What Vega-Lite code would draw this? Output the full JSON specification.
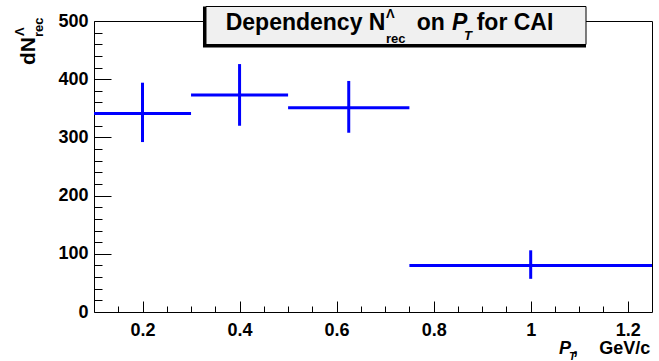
{
  "$schema": "https://vega.github.io/schema/vega-lite/v6.json",
  "width": 558,
  "height": 291,
  "autosize": {"type": "none"},
  "padding": {"left": 94, "top": 21, "right": 7, "bottom": 49},
  "background": "white",
  "config": {
    "view": {"stroke": "black", "strokeWidth": 1},
    "text": {"font": "Liberation Sans", "fontWeight": "bold", "color": "black"}
  },
  "resolve": {"axis": {"x": "independent", "y": "independent"}},
  "datasets": {
    "bins": [
      {"lo": 0.1, "hi": 0.3, "center": 0.2, "value": 341, "ylo": 292, "yhi": 394},
      {"lo": 0.3, "hi": 0.5, "center": 0.4, "value": 373, "ylo": 320, "yhi": 426},
      {"lo": 0.5, "hi": 0.75, "center": 0.625, "value": 351, "ylo": 308, "yhi": 397},
      {"lo": 0.75, "hi": 1.25, "center": 1.0, "value": 80, "ylo": 57, "yhi": 106}
    ],
    "titlebox": [
      {"x0": 0.3308, "x1": 1.114, "y0": 459.6, "y1": 524.9}
    ],
    "notes": [
      {"part": "title", "text": "Dependency N", "x": 0.3714, "y": 484.5},
      {"part": "title", "text": "on", "x": 0.7651, "y": 484.5},
      {"part": "title", "text": "for CAI", "x": 0.8887, "y": 484.5},
      {"part": "titleItalic", "text": "P", "x": 0.8378, "y": 484.5},
      {"part": "titleSmall", "text": "Λ", "x": 0.7018, "y": 505.2},
      {"part": "titleSmall", "text": "rec", "x": 0.7018, "y": 462.2},
      {"part": "titleSmallItalic", "text": "T", "x": 0.8626, "y": 467.4},
      {"part": "yTitle", "text": "dN", "x": -0.0216, "y": 424.4},
      {"part": "yTitleSmall", "text": "rec", "x": -0.0051, "y": 472.5},
      {"part": "yTitleSmall", "text": "Λ", "x": -0.0443, "y": 474.2},
      {"part": "xTitleItalic", "text": "P", "x": 1.0584, "y": -72.2},
      {"part": "xTitleSmallItalic", "text": "T", "x": 1.079, "y": -82.5},
      {"part": "xTitleLeft", "text": ",", "x": 1.0872, "y": -72.2},
      {"part": "xTitle", "text": "GeV/c", "x": 1.2464, "y": -72.2}
    ]
  },
  "layer": [
    {
      "data": {"name": "bins"},
      "mark": {"type": "rule", "color": "#0000ff", "strokeWidth": 3},
      "encoding": {
        "x": {
          "field": "lo", "type": "quantitative",
          "scale": {"domain": [0.1, 1.25], "nice": false, "zero": false},
          "axis": {
            "orient": "bottom", "title": null, "grid": false, "domain": false,
            "values": [0.15, 0.2, 0.25, 0.3, 0.35, 0.4, 0.45, 0.5, 0.55, 0.6, 0.65, 0.7, 0.75, 0.8, 0.85, 0.9, 0.95, 1, 1.05, 1.1, 1.15, 1.2],
            "format": "~g",
            "labelExpr": "abs(datum.value*5 - round(datum.value*5)) < 0.001 ? datum.label : ''",
            "tickColor": "black", "tickWidth": 1,
            "tickSize": {"condition": {"test": "abs(datum.value*5 - round(datum.value*5)) < 0.001", "value": -11}, "value": -6},
            "labelFont": "Liberation Sans", "labelFontWeight": "bold", "labelFontSize": 18,
            "labelColor": "black", "labelPadding": 20, "labelOverlap": false, "labelFlush": false, "labelBound": false
          }
        },
        "x2": {"field": "hi"},
        "y": {
          "field": "value", "type": "quantitative",
          "scale": {"domain": [0, 500], "nice": false},
          "axis": {
            "orient": "left", "title": null, "grid": false, "domain": false,
            "values": [0, 20, 40, 60, 80, 100, 120, 140, 160, 180, 200, 220, 240, 260, 280, 300, 320, 340, 360, 380, 400, 420, 440, 460, 480, 500],
            "format": "d",
            "labelExpr": "datum.value % 100 == 0 ? datum.label : ''",
            "tickColor": "black", "tickWidth": 1,
            "tickSize": {"condition": {"test": "datum.value % 100 == 0", "value": -17}, "value": -8},
            "labelFont": "Liberation Sans", "labelFontWeight": "bold", "labelFontSize": 18,
            "labelColor": "black", "labelPadding": 23, "labelOverlap": false, "labelFlush": false, "labelBound": false
          }
        }
      }
    },
    {
      "data": {"name": "bins"},
      "mark": {"type": "rule", "color": "#0000ff", "strokeWidth": 3},
      "encoding": {
        "x": {"field": "center", "type": "quantitative", "axis": null},
        "y": {"field": "ylo", "type": "quantitative", "axis": null},
        "y2": {"field": "yhi"}
      }
    },
    {
      "data": {"name": "titlebox"},
      "mark": {"type": "rect", "fill": "black", "xOffset": -3, "yOffset": 3, "clip": false},
      "encoding": {
        "x": {"field": "x0", "type": "quantitative", "axis": null},
        "x2": {"field": "x1"},
        "y": {"field": "y0", "type": "quantitative", "axis": null},
        "y2": {"field": "y1"}
      }
    },
    {
      "data": {"name": "titlebox"},
      "mark": {"type": "rect", "fill": "#f0f0f0", "stroke": "black", "strokeWidth": 1, "clip": false},
      "encoding": {
        "x": {"field": "x0", "type": "quantitative", "axis": null},
        "x2": {"field": "x1"},
        "y": {"field": "y0", "type": "quantitative", "axis": null},
        "y2": {"field": "y1"}
      }
    },
    {
      "data": {"name": "notes"},
      "transform": [{"filter": "datum.part == 'title'"}],
      "mark": {"type": "text", "fontSize": 23, "align": "left", "baseline": "alphabetic"},
      "encoding": {
        "x": {"field": "x", "type": "quantitative", "axis": null},
        "y": {"field": "y", "type": "quantitative", "axis": null},
        "text": {"field": "text"}
      }
    },
    {
      "data": {"name": "notes"},
      "transform": [{"filter": "datum.part == 'titleItalic'"}],
      "mark": {"type": "text", "fontSize": 23, "fontStyle": "italic", "align": "left", "baseline": "alphabetic"},
      "encoding": {
        "x": {"field": "x", "type": "quantitative", "axis": null},
        "y": {"field": "y", "type": "quantitative", "axis": null},
        "text": {"field": "text"}
      }
    },
    {
      "data": {"name": "notes"},
      "transform": [{"filter": "datum.part == 'titleSmall'"}],
      "mark": {"type": "text", "fontSize": 13, "align": "left", "baseline": "alphabetic"},
      "encoding": {
        "x": {"field": "x", "type": "quantitative", "axis": null},
        "y": {"field": "y", "type": "quantitative", "axis": null},
        "text": {"field": "text"}
      }
    },
    {
      "data": {"name": "notes"},
      "transform": [{"filter": "datum.part == 'titleSmallItalic'"}],
      "mark": {"type": "text", "fontSize": 13, "fontStyle": "italic", "align": "left", "baseline": "alphabetic"},
      "encoding": {
        "x": {"field": "x", "type": "quantitative", "axis": null},
        "y": {"field": "y", "type": "quantitative", "axis": null},
        "text": {"field": "text"}
      }
    },
    {
      "data": {"name": "notes"},
      "transform": [{"filter": "datum.part == 'yTitle'"}],
      "mark": {"type": "text", "fontSize": 21, "angle": 270, "align": "left", "baseline": "alphabetic"},
      "encoding": {
        "x": {"field": "x", "type": "quantitative", "axis": null},
        "y": {"field": "y", "type": "quantitative", "axis": null},
        "text": {"field": "text"}
      }
    },
    {
      "data": {"name": "notes"},
      "transform": [{"filter": "datum.part == 'yTitleSmall'"}],
      "mark": {"type": "text", "fontSize": 13, "angle": 270, "align": "left", "baseline": "alphabetic"},
      "encoding": {
        "x": {"field": "x", "type": "quantitative", "axis": null},
        "y": {"field": "y", "type": "quantitative", "axis": null},
        "text": {"field": "text"}
      }
    },
    {
      "data": {"name": "notes"},
      "transform": [{"filter": "datum.part == 'xTitle'"}],
      "mark": {"type": "text", "fontSize": 18, "align": "right", "baseline": "alphabetic"},
      "encoding": {
        "x": {"field": "x", "type": "quantitative", "axis": null},
        "y": {"field": "y", "type": "quantitative", "axis": null},
        "text": {"field": "text"}
      }
    },
    {
      "data": {"name": "notes"},
      "transform": [{"filter": "datum.part == 'xTitleLeft'"}],
      "mark": {"type": "text", "fontSize": 18, "align": "left", "baseline": "alphabetic"},
      "encoding": {
        "x": {"field": "x", "type": "quantitative", "axis": null},
        "y": {"field": "y", "type": "quantitative", "axis": null},
        "text": {"field": "text"}
      }
    },
    {
      "data": {"name": "notes"},
      "transform": [{"filter": "datum.part == 'xTitleItalic'"}],
      "mark": {"type": "text", "fontSize": 18, "fontStyle": "italic", "align": "left", "baseline": "alphabetic"},
      "encoding": {
        "x": {"field": "x", "type": "quantitative", "axis": null},
        "y": {"field": "y", "type": "quantitative", "axis": null},
        "text": {"field": "text"}
      }
    },
    {
      "data": {"name": "notes"},
      "transform": [{"filter": "datum.part == 'xTitleSmallItalic'"}],
      "mark": {"type": "text", "fontSize": 11, "fontStyle": "italic", "align": "left", "baseline": "alphabetic"},
      "encoding": {
        "x": {"field": "x", "type": "quantitative", "axis": null},
        "y": {"field": "y", "type": "quantitative", "axis": null},
        "text": {"field": "text"}
      }
    }
  ]
}
